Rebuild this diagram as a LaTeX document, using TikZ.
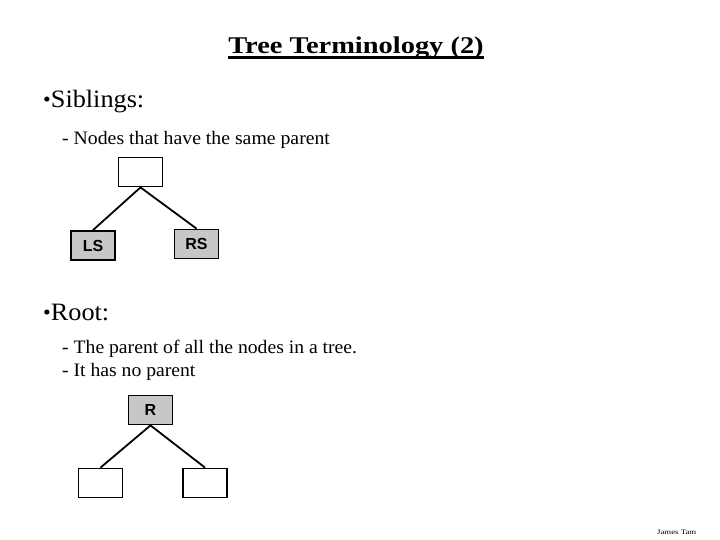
\documentclass[tikz,border=0pt]{standalone}
\usepackage{graphicx}
\usepackage{fontspec}
\setmainfont{Liberation Serif}
\newfontfamily\arialfont{Liberation Sans}
\newcommand{\mybul}{{\fontsize{21}{21}\selectfont\raisebox{1pt}{\textbullet}}}
\begin{document}
\begin{tikzpicture}[x=1pt,y=-1pt,
  tbox/.style={draw,line width=1.8pt,minimum width=44pt,minimum height=29pt,inner sep=0pt,fill=white},
  gbox/.style={tbox,fill=black!22,font=\arialfont\bfseries\fontsize{16}{16}\selectfont},
  edge/.style={line width=1.8pt},
  txt/.style={anchor=base west,inner sep=0pt},
  head/.style={txt,font=\fontsize{25}{25}\selectfont},
  desc/.style={txt,font=\fontsize{19}{19}\selectfont}]
\useasboundingbox (0,0) rectangle (720,540);
\node[anchor=base,inner sep=0pt,font=\bfseries\fontsize{24}{24}\selectfont] (title) at (356,54) {\scalebox{1.185}[1]{Tree Terminology (2)}};
\draw[line width=2.2pt] ([yshift=-3.5pt]title.base west) -- ([yshift=-3.5pt]title.base east);
\node[head] (sib) at (43,108) {\scalebox{1.05}[1]{\mybul Siblings:}};
\node[desc] (sibd) at (62,145) {\scalebox{1.04}[1]{- Nodes that have the same parent}};
\node[tbox] (p) at (140.5,172) {};
\node[gbox] (ls) at (93,245.5) {LS};
\node[gbox] (rs) at (196.5,244) {RS};
\draw[edge] (p.south) -- (ls.north);
\draw[edge] (p.south) -- (rs.north);
\node[head] (root) at (43,320) {\scalebox{1.05}[1]{\mybul Root:}};
\node[desc] (rootd1) at (62,353) {\scalebox{1.035}[1]{- The parent of all the nodes in a tree.}};
\node[desc] (rootd2) at (62,376) {\scalebox{1.035}[1]{- It has no parent}};
\node[gbox] (r) at (150.5,410) {R};
\node[tbox] (c1) at (100.5,483) {};
\node[tbox] (c2) at (205,483) {};
\draw[edge] (r.south) -- (c1.north);
\draw[edge] (r.south) -- (c2.north);
\node[txt,font=\fontsize{7}{7}\selectfont] (foot) at (657,534) {\scalebox{1.25}[1]{James Tam}};
\end{tikzpicture}
\end{document}
